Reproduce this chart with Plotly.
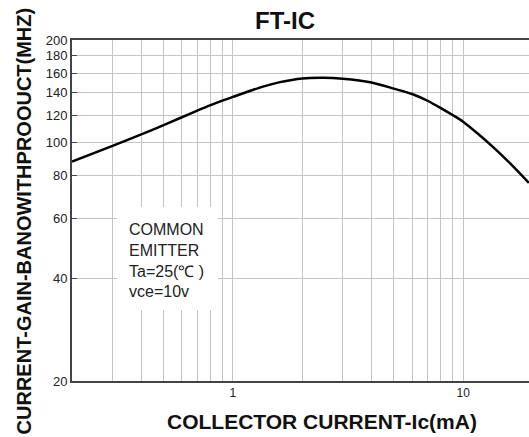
import plotly.graph_objects as go
import math

# Data
ic_ma = [0.2, 0.3, 0.4, 0.5, 0.6, 0.7, 0.8, 0.9, 1.0, 1.35, 1.6, 2.0, 2.46, 3.0, 4.0, 5.0,
         6.0, 7.0, 8.0, 9.0, 10.0, 11.8, 13.5, 16.0, 19.3]
ft_mhz = [88, 97.8, 105.7, 112.5, 118.7, 124.1, 128.8, 132.8, 136.2, 146, 150.5, 154.3,
          155, 154, 150.1, 144, 138.9, 132.7, 126.3, 120.5, 115.2, 105.1, 97, 86.9, 76.2]

x_grid = [0.2, 0.3, 0.4, 0.5, 0.6, 0.7, 0.8, 0.9, 1, 2, 3, 4, 5, 6, 7, 8, 9, 10, 20]
x_grid_text = ["", "", "", "", "", "", "", "", "1", "", "", "", "", "", "", "", "", "10", ""]
y_ticks = [20, 40, 60, 80, 100, 120, 140, 160, 180, 200]

title_text = "FT-IC"
x_title = "COLLECTOR CURRENT-Ic(mA)"
y_title = "CURRENT-GAIN-BANOWITHPROOUCT(MHZ)"
note_text = "COMMON<br>EMITTER<br>Ta=25(℃ )<br>vce=10v"

FONT = "Liberation Sans, Arial, sans-serif"

fig = go.Figure()
fig.add_trace(go.Scatter(
    x=ic_ma, y=ft_mhz, mode="lines",
    line=dict(color="black", width=2.5, shape="spline", smoothing=0.8),
    showlegend=False, hoverinfo="skip",
))

fig.update_layout(
    width=529, height=437,
    margin=dict(l=72, r=0, t=40, b=56),
    paper_bgcolor="white", plot_bgcolor="white",
    font=dict(family=FONT, color="#222"),
    xaxis=dict(
        type="log", range=[math.log10(0.2), 1.286],
        tickmode="array", tickvals=x_grid, ticktext=x_grid_text,
        tickfont=dict(size=12, color="#222"),
        ticks="",
        showgrid=True, gridcolor="#c4c4c4", gridwidth=1,
        showline=True, linecolor="#444", linewidth=2, mirror=True,
        zeroline=False,
    ),
    yaxis=dict(
        type="log", range=[math.log10(20), math.log10(200)],
        tickmode="array", tickvals=y_ticks, ticktext=[str(v) for v in y_ticks],
        tickfont=dict(size=13, color="#222"),
        ticks="inside", ticklen=5, tickcolor="#444",
        showgrid=True, gridcolor="#c4c4c4", gridwidth=1,
        showline=True, linecolor="#444", linewidth=2,
        zeroline=False,
    ),
    shapes=[dict(type="rect", xref="paper", yref="paper",
                 x0=0.0985, x1=0.3195, y0=0.208, y1=0.510,
                 fillcolor="white", line=dict(width=0), layer="above")],
    annotations=[
        dict(text="<b>" + title_text + "</b>", xref="paper", yref="paper",
             x=0.466, y=1.056, xanchor="center", yanchor="middle",
             showarrow=False, font=dict(size=24, color="#111", family=FONT)),
        dict(text="<b>" + x_title + "</b>", xref="paper", yref="paper",
             x=0.548, y=-0.120, xanchor="center", yanchor="middle",
             showarrow=False, font=dict(size=21, color="#111", family=FONT)),
        dict(text="<b>" + y_title + "</b>", xref="paper", yref="paper",
             x=-0.103, y=0.4707, xanchor="center", yanchor="middle",
             textangle=-90, showarrow=False,
             font=dict(size=20, color="#111", family=FONT)),
        dict(text=note_text, xref="paper", yref="paper",
             x=0.12, y=0.476, xanchor="left", yanchor="top", align="left",
             showarrow=False, font=dict(size=16, color="#222", family=FONT)),
    ],
)

fig.write_html("out.html")
